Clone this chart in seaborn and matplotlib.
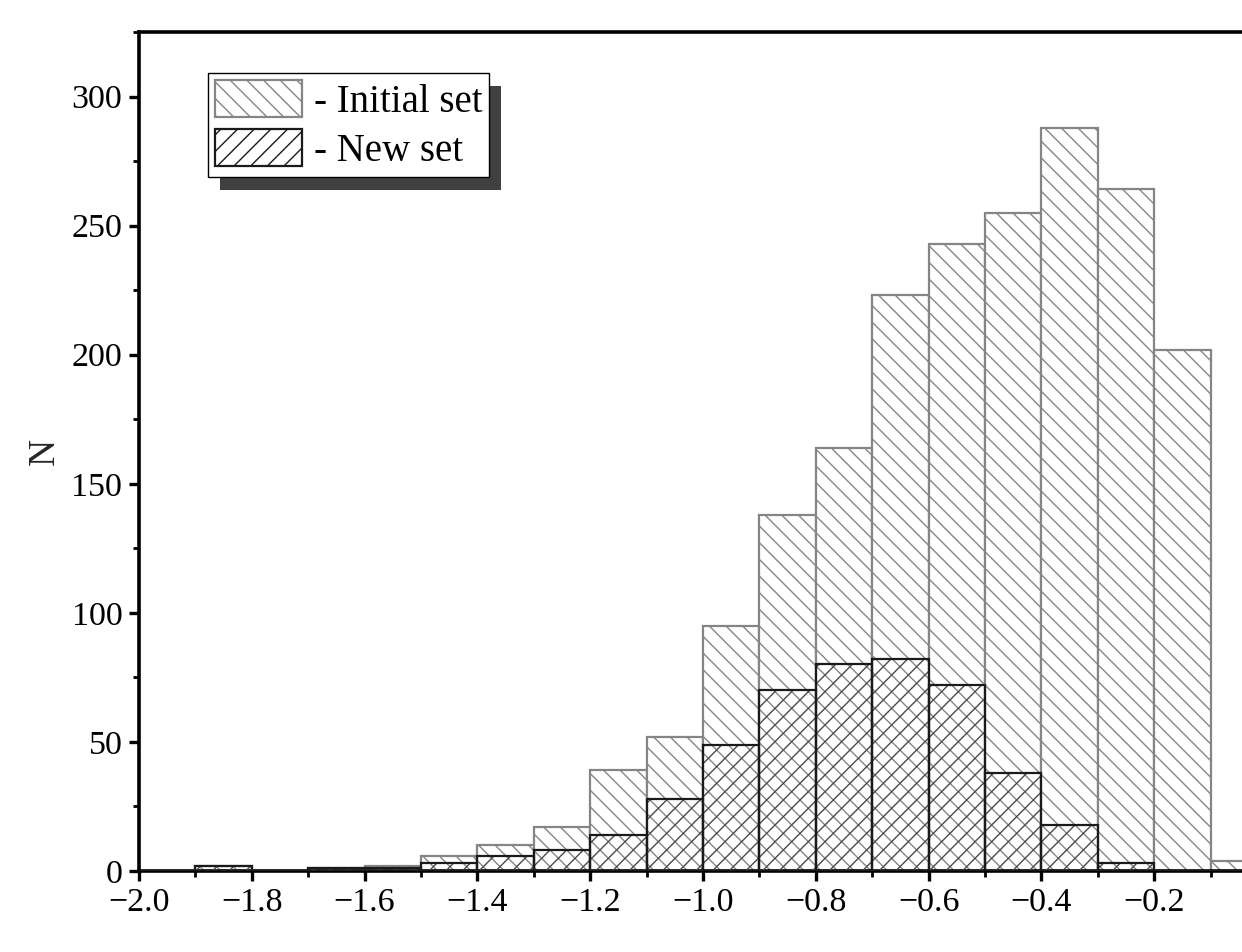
import numpy as np
import pandas as pd
import seaborn as sns
import matplotlib.pyplot as plt
from matplotlib.patches import Patch, Rectangle
from matplotlib.ticker import MultipleLocator, FixedLocator

sns.set_style('ticks')
plt.rcParams['font.family'] = ['Liberation Serif', 'DejaVu Serif']
plt.rcParams['hatch.linewidth'] = 1.0
plt.rcParams['text.color'] = 'black'

# histogram bins of width 0.1 from -2.0 to 0.0
edges = [round(-2.0 + 0.1 * i, 1) for i in range(21)]
centers = [round(e + 0.05, 2) for e in edges[:-1]]
initial_counts = [0, 2, 0, 1, 2, 6, 10, 17, 39, 52, 95, 138, 164, 223, 243, 255, 288, 264, 202, 4]
new_counts = [0, 2, 0, 1, 1, 3, 6, 8, 14, 28, 49, 70, 80, 82, 72, 38, 18, 3, 0, 0]
x_ticks = [-2.0, -1.8, -1.6, -1.4, -1.2, -1.0, -0.8, -0.6, -0.4, -0.2]
labels = ['- Initial set', '- New set']

df = pd.DataFrame({'x': centers, 'initial': initial_counts, 'new': new_counts})

fig = plt.figure(figsize=(12.42, 9.52), dpi=100)
# axes run past the right edge of the figure (the original is cropped)
ax = fig.add_axes([139 / 1242, 81 / 952, 1128 / 1242, 839 / 952])

# initial set: white bars, grey outline and grey back-slash hatch
sns.histplot(data=df, x='x', weights='initial', bins=edges, ax=ax,
             color='white', edgecolor='#858585', linewidth=1.6, alpha=1, hatch='\\\\')
n_first = len(ax.patches)
# new set: transparent bars, dark-grey hatch then black outline on top
sns.histplot(data=df, x='x', weights='new', bins=edges, ax=ax,
             color='white', edgecolor='#4a4a4a', linewidth=0, alpha=1, hatch='//')
n_second = len(ax.patches)
sns.histplot(data=df, x='x', weights='new', bins=edges, ax=ax,
             fill=False, color='#1a1a1a', linewidth=1.6)
for p in ax.patches[n_first:n_second]:
    p.set_facecolor('none')
    p.set_zorder(3)
for p in ax.patches[n_second:]:
    p.set_zorder(3.5)

ax.set_xlim(-2.0, 0.0)
ax.set_ylim(0, 325)
ax.xaxis.set_major_locator(FixedLocator(x_ticks))
ax.xaxis.set_minor_locator(MultipleLocator(0.1))
ax.yaxis.set_major_locator(MultipleLocator(50))
ax.yaxis.set_minor_locator(MultipleLocator(25))
ax.xaxis.set_major_formatter(plt.FuncFormatter(lambda v, _: f'{v:.1f}'.replace('-', '\u2212')))

for s in ['left', 'bottom', 'top', 'right']:
    ax.spines[s].set_linewidth(2.6)
    ax.spines[s].set_color('black')
ax.tick_params(which='major', direction='out', length=7, width=2.4, labelsize=24.5,
               colors='black', pad=5, top=False, right=False)
ax.tick_params(which='minor', direction='out', length=4, width=2.0,
               colors='black', top=False, right=False)

ax.set_xlabel('')
ax.set_ylabel('N', fontsize=27, labelpad=7)

handles = [Patch(facecolor='white', edgecolor='#858585', hatch='\\\\', linewidth=1.6),
           Patch(facecolor='white', edgecolor='#1a1a1a', hatch='//', linewidth=1.6)]
leg = ax.legend(handles, labels, loc='upper left', bbox_to_anchor=(0.061, 0.951),
                borderaxespad=0, fontsize=28, frameon=True, fancybox=False,
                edgecolor='black', framealpha=1, handlelength=2.25, handleheight=1.1,
                handletextpad=0.3, labelspacing=0.2, borderpad=0.18)
leg.get_frame().set_linewidth(1.0)
leg.set_zorder(6)

# offset drop shadow behind the legend box
fig.canvas.draw()
bb = leg.get_window_extent()
shadow = Rectangle((bb.x0 + 12, bb.y0 - 13), bb.width, bb.height, transform=None,
                   facecolor='#404040', edgecolor='none', zorder=5.5)
ax.add_artist(shadow)

fig.savefig('out.png', dpi=100)
